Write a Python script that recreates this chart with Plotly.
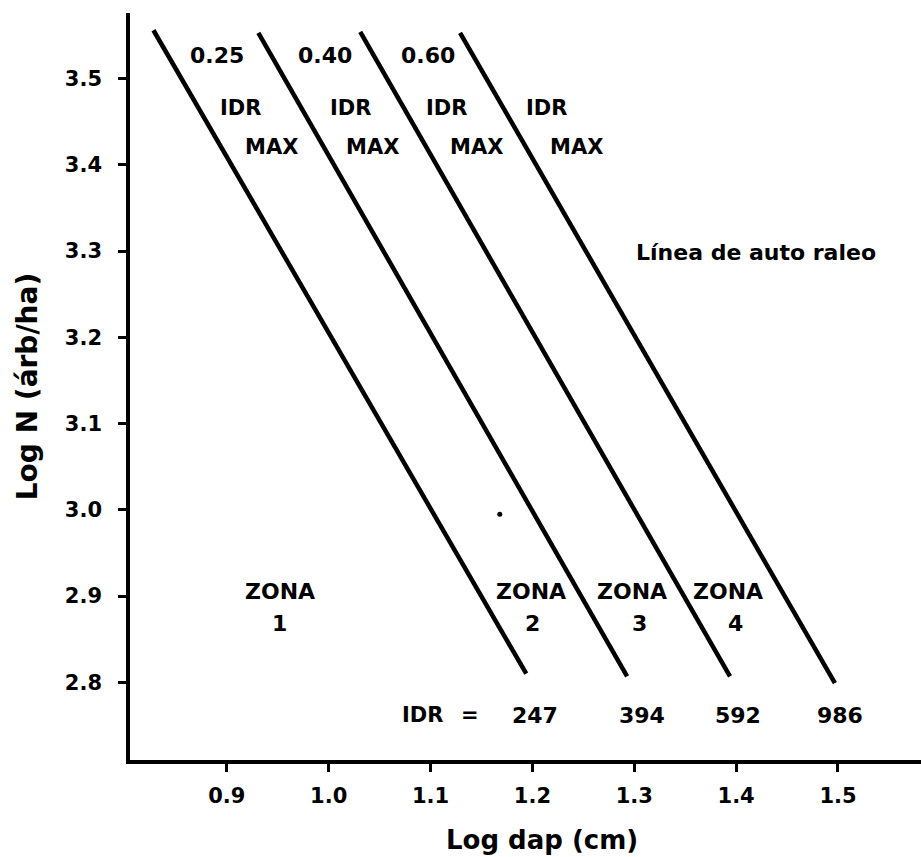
import plotly.graph_objects as go

# Self-thinning (IDR) lines: endpoints
line_x_top = [0.828, 0.931, 1.031, 1.129]
line_y_top = [3.556, 3.553, 3.554, 3.553]
line_x_bottom = [1.194, 1.293, 1.394, 1.497]
line_y_bottom = [2.810, 2.807, 2.807, 2.799]

# Labels
fraction_labels = ["0.25", "0.40", "0.60"]
fraction_x = [0.890, 0.996, 1.0975]
fraction_y = 3.527
idr_max_x = [0.913, 1.021, 1.116, 1.214]
max_x = [0.944, 1.0435, 1.1456, 1.2438]
idr_y = 3.466
max_y = 3.421
zone_labels = ["1", "2", "3", "4"]
zone_x = [0.952, 1.1986, 1.2978, 1.392]
zone_num_x = [0.952, 1.2006, 1.3056, 1.399]
zone_y = 2.905
zone_num_y = 2.868
idr_values = ["247", "394", "592", "986"]
idr_values_x = [1.2026, 1.3076, 1.4018, 1.502]
idr_row_y = 2.762
stray_dot_x = [1.168]
stray_dot_y = [2.995]

x_ticks = [0.9, 1.0, 1.1, 1.2, 1.3, 1.4, 1.5]
y_ticks = [2.8, 2.9, 3.0, 3.1, 3.2, 3.3, 3.4, 3.5]

FONT = "DejaVu Sans"
fig = go.Figure()

for xt, yt, xb, yb in zip(line_x_top, line_y_top, line_x_bottom, line_y_bottom):
    fig.add_trace(go.Scatter(x=[xt, xb], y=[yt, yb], mode="lines",
                             line=dict(color="black", width=4.5),
                             showlegend=False, hoverinfo="skip"))

fig.add_trace(go.Scatter(x=stray_dot_x, y=stray_dot_y, mode="markers",
                         marker=dict(color="black", size=5),
                         showlegend=False, hoverinfo="skip"))

ann = []
def add(text, x, y, size=21, xref="x", yref="y"):
    ann.append(dict(text=text, x=x, y=y, xref=xref, yref=yref, showarrow=False,
                    font=dict(family=FONT, size=size, color="black", weight="bold"),
                    xanchor="center", yanchor="middle"))

for t, x in zip(fraction_labels, fraction_x):
    add(t, x, fraction_y, 22)
for x in idr_max_x:
    add("IDR", x, idr_y)
for x in max_x:
    add("MAX", x, max_y)
add("Línea de auto raleo", 1.4195, 3.2978, 22)
for t, x, xn in zip(zone_labels, zone_x, zone_num_x):
    add("ZONA", x, zone_y, 22)
    add(t, xn, zone_num_y, 22)
add("IDR", 1.0926, idr_row_y)
add("=", 1.1388, idr_row_y)
for t, x in zip(idr_values, idr_values_x):
    add(t, x, idr_row_y, 22)
# x-axis title (slightly right of centre, as in the original)
add("Log dap (cm)", 0.521, -0.107, 26, xref="paper", yref="paper")

fig.update_layout(
    width=921, height=857,
    margin=dict(l=130, r=0, t=13, b=97),
    paper_bgcolor="white", plot_bgcolor="white",
    annotations=ann,
    font=dict(family=FONT, color="black"),
    xaxis=dict(range=[0.805, 1.5815], tickvals=x_ticks, tickformat=".1f",
               showgrid=False, zeroline=False, showline=True, linecolor="black",
               linewidth=3.5, ticks="outside", ticklen=8, tickwidth=3, tickcolor="black",
               tickfont=dict(family=FONT, size=21, color="black", weight="bold"),
               ticklabelstandoff=6),
    yaxis=dict(range=[2.710, 3.576], tickvals=y_ticks, tickformat=".1f",
               showgrid=False, zeroline=False, showline=True, linecolor="black",
               linewidth=3.5, ticks="outside", ticklen=8, tickwidth=3, tickcolor="black",
               tickfont=dict(family=FONT, size=21, color="black", weight="bold"),
               ticklabelstandoff=12,
               title=dict(text="Log N (árb/ha)", standoff=20,
                          font=dict(family=FONT, size=28, color="black", weight="bold"))),
)

fig.write_html("out.html")
